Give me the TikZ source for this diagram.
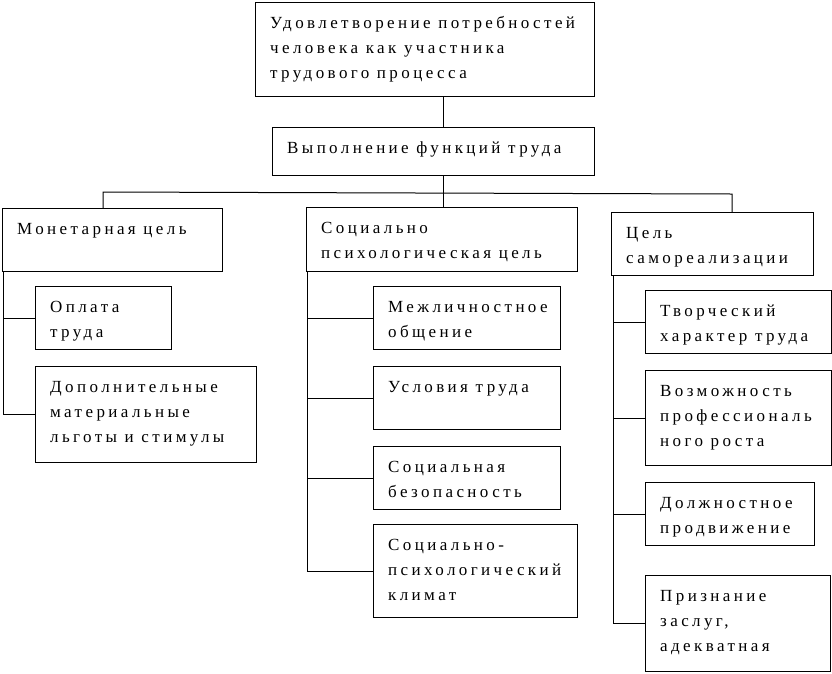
\documentclass[tikz,border=0pt]{standalone}
\usepackage{fontspec}
\setmainfont{Liberation Serif}[LetterSpace=20]
\tikzset{
  bx/.style={draw, line width=1pt, anchor=north west, inner sep=0pt},
  tx/.style={anchor=north west, inner sep=0pt, align=left, font=\fontsize{17}{25}\selectfont},
  ln/.style={line width=1pt}
}
\newcommand{\mybox}[6]{%
  \node[bx, minimum width=#4pt, minimum height=#5pt] (#1) at (#2,#3) {};
  \node[tx] (#1t) at ([xshift=15pt,yshift=-11pt]#1.north west) {\rule{0pt}{15pt}#6};
}
\begin{document}
\begin{tikzpicture}[x=1pt,y=-1pt]
\useasboundingbox (0,0) rectangle (832,673);
\mybox{top}{255}{2}{339}{94}{Удовлетворение потребностей\\человека как участника\\трудового процесса}
\mybox{fun}{272}{127}{322}{48}{Выполнение функций труда}
\mybox{mon}{2}{208}{220}{63}{Монетарная цель}
\mybox{opl}{35}{286}{136}{63}{Оплата\\труда}
\mybox{dop}{35}{366}{221}{96}{Дополнительные\\материальные\\льготы и стимулы}
\mybox{soc}{306}{207}{271}{64}{Социально\\психологическая цель}
\mybox{mez}{373}{286}{187}{63}{Межличностное\\общение}
\mybox{usl}{373}{366}{187}{63}{Условия труда}
\mybox{bez}{373}{446}{187}{63}{Социальная\\безопасность}
\mybox{kli}{373}{524}{204}{93}{Социально-\\психологический\\климат}
\mybox{sam}{611}{212}{202}{63}{Цель\\самореализации}
\mybox{tvo}{645}{290}{186}{63}{Творческий\\характер труда}
\mybox{voz}{645}{370}{186}{95}{Возможность\\профессиональ\\ного роста}
\mybox{dol}{645}{482}{169}{63}{Должностное\\продвижение}
\mybox{pri}{645}{575}{185}{96}{Признание\\заслуг,\\адекватная}
% main trunk
\coordinate (hl) at (103,192);
\coordinate (hr) at (732,194);
\draw[ln] (top.south -| 443,0) -- (fun.north -| 443,0);
\draw[ln] (fun.south -| 443,0) -- (soc.north -| 443,0);
\draw[ln] (mon.north -| hl) -- (hl) -- (hr) -- (sam.north -| hr);
% left branch
\coordinate (sl) at (3,0);
\draw[ln] (mon.south -| sl) -- (sl |- dop.west);
\draw[ln] (sl |- opl.west) -- (opl.west);
\draw[ln] (sl |- dop.west) -- (dop.west);
% middle branch
\coordinate (sm) at (307,0);
\draw[ln] (soc.south -| sm) -- (sm |- kli.west);
\draw[ln] (sm |- mez.west) -- (mez.west);
\draw[ln] (sm |- usl.west) -- (usl.west);
\draw[ln] (sm |- bez.west) -- (bez.west);
\draw[ln] (sm |- kli.west) -- (kli.west);
% right branch
\coordinate (sr) at (613,0);
\draw[ln] (sam.south -| sr) -- (sr |- pri.west);
\draw[ln] (sr |- tvo.west) -- (tvo.west);
\draw[ln] (sr |- voz.west) -- (voz.west);
\draw[ln] (sr |- dol.west) -- (dol.west);
\draw[ln] (sr |- pri.west) -- (pri.west);
\end{tikzpicture}
\end{document}
